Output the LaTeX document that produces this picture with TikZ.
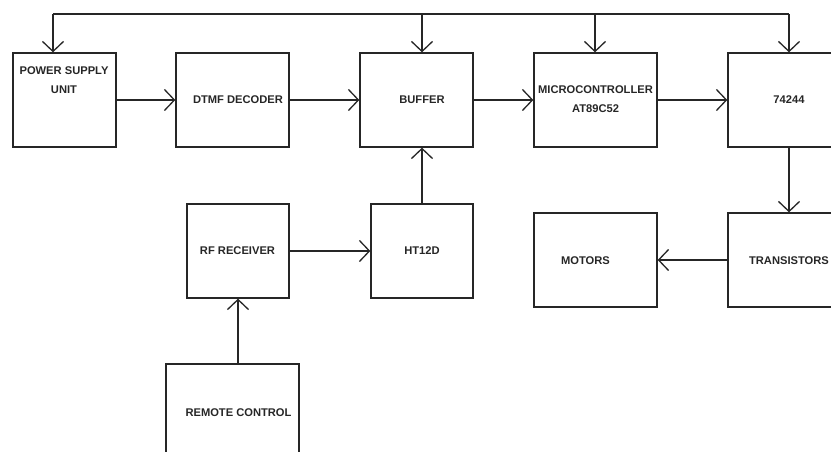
\documentclass[tikz,border=0pt]{standalone}
\usepackage{fontspec}
\setmainfont{Liberation Sans}
\usetikzlibrary{arrows.meta}
\begin{document}
\begin{tikzpicture}[x=1bp,y=-1bp,
  blk/.style={draw=black!85, line width=1.3bp, rectangle, inner sep=0pt},
  lbl/.style={font=\fontsize{11.2}{19}\selectfont\bfseries, text=black!85, align=center, inner sep=0pt},
  con/.style={draw=black!85, line width=1.3bp, -{Straight Barb[length=10bp,width=21bp,line width=1.3bp]}},
  wire/.style={draw=black!85, line width=1.3bp}]
\useasboundingbox (0,0) rectangle (831,452);
\clip (0,0) rectangle (831,452);
% boxes
\node[blk, minimum width=103bp, minimum height=94bp] (psu) at (64.5,100) {};
\node[blk, minimum width=113bp, minimum height=94bp] (dtmf) at (232.5,100) {};
\node[blk, minimum width=113bp, minimum height=94bp] (buf) at (416.5,100) {};
\node[blk, minimum width=123bp, minimum height=94bp] (mcu) at (595.5,100) {};
\node[blk, minimum width=122bp, minimum height=94bp] (ic) at (789,100) {};
\node[blk, minimum width=122bp, minimum height=94bp] (tr) at (789,260) {};
\node[blk, minimum width=123bp, minimum height=94bp] (mot) at (595.5,260) {};
\node[blk, minimum width=102bp, minimum height=94bp] (rf) at (238,251) {};
\node[blk, minimum width=102bp, minimum height=94bp] (ht) at (422,251) {};
\node[blk, minimum width=133bp, minimum height=94bp] (rc) at (232.5,411) {};
% labels
\node[lbl] (tpsu) at (64,80.5) {POWER SUPPLY\\UNIT};
\node[lbl] (tdtmf) at (238,100) {DTMF DECODER};
\node[lbl] (tbuf) at (422,100) {BUFFER};
\node[lbl] (tmcu) at (595.5,99.5) {MICROCONTROLLER\\AT89C52};
\node[lbl] (tic) at (789,100) {74244};
\node[lbl] (ttr) at (789,261) {TRANSISTORS};
\node[lbl] (tmot) at (585.5,261) {MOTORS};
\node[lbl] (trf) at (237.5,251) {RF RECEIVER};
\node[lbl] (tht) at (422,251) {HT12D};
\node[lbl] (trc) at (238.5,413) {REMOTE CONTROL};
% top bus
\coordinate (t1) at (53,14);
\coordinate (t2) at (422,14);
\coordinate (t3) at (595,14);
\coordinate (t4) at (789,14);
\draw[wire] (t1) -- (t4);
\draw[con] (t1) -- (t1 |- psu.north);
\draw[con] (t2) -- (t2 |- buf.north);
\draw[con] (t3) -- (t3 |- mcu.north);
\draw[con] (t4) -- (t4 |- ic.north);
% chain
\draw[con] (psu.east) -- (dtmf.west);
\draw[con] (dtmf.east) -- (buf.west);
\draw[con] (buf.east) -- (mcu.west);
\draw[con] (mcu.east) -- (ic.west);
\draw[con] (ic.south) -- (tr.north);
\draw[con] (tr.west) -- (mot.east);
\draw[con] (rf.east) -- (ht.west);
\draw[con] (ht.north) -- (ht.north |- buf.south);
\draw[con] (rc.north -| rf.south) -- (rf.south);
\end{tikzpicture}
\end{document}
